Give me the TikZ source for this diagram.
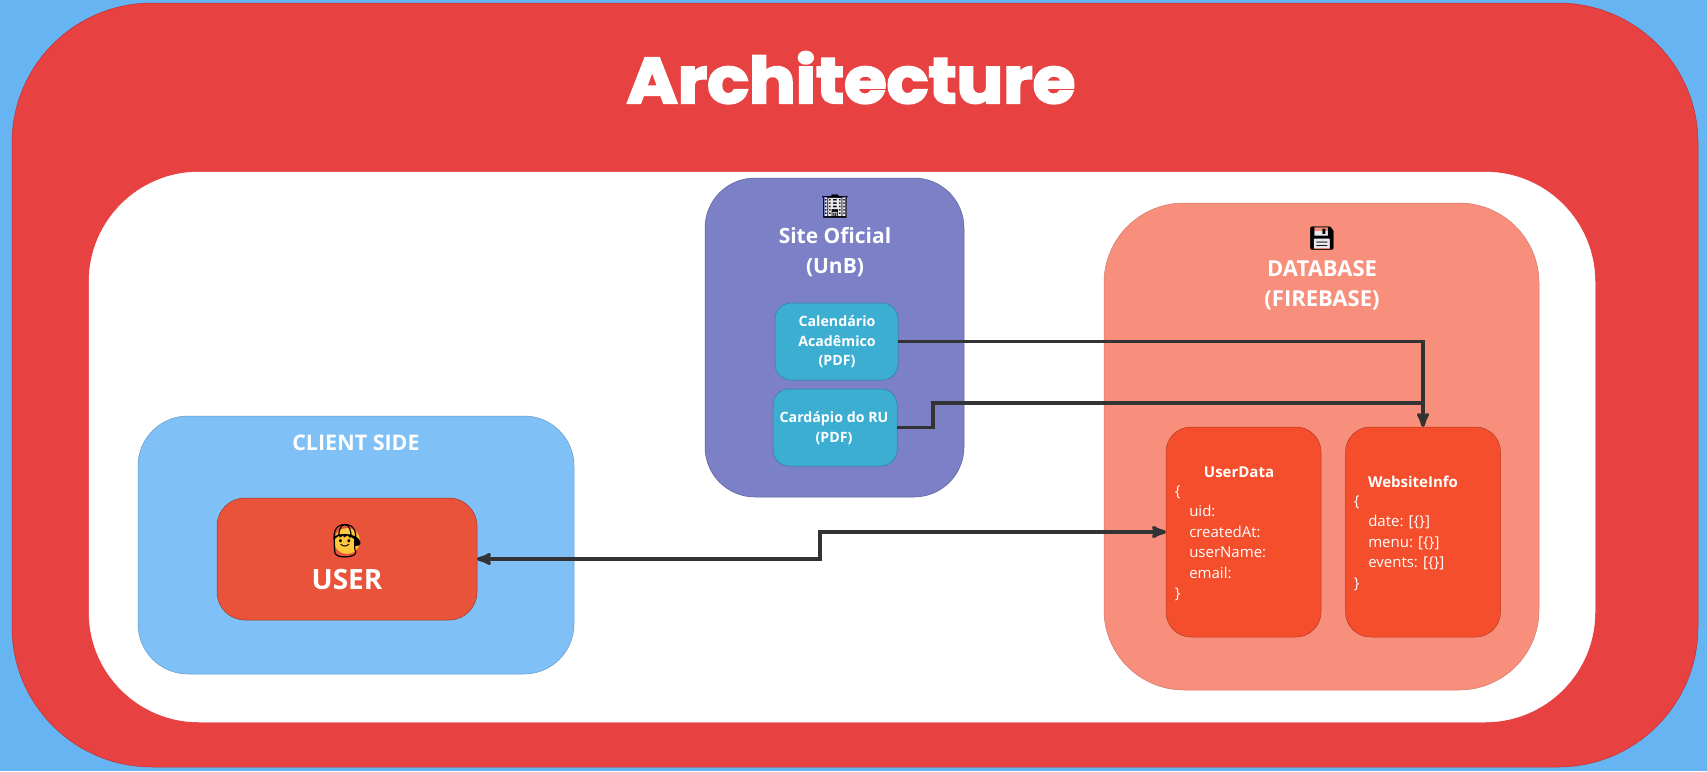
\documentclass[tikz,border=0pt]{standalone}
\usepackage{tikz}
\usepackage{xcolor}
\usepackage{fontspec}
\usetikzlibrary{arrows}

\setmainfont{Open Sans}
\newfontfamily\titlefont[FakeBold=3.5,FakeStretch=1.08]{Poppins}
\newfontfamily\emojifont{Noto Emoji}

\definecolor{skyback}{HTML}{66B4F1}
\definecolor{archred}{HTML}{E84142}
\definecolor{sitepurple}{HTML}{7B80C7}
\definecolor{pdfteal}{HTML}{3BAED1}
\definecolor{dbsalmon}{HTML}{F88F7C}
\definecolor{dborange}{HTML}{F44E2C}
\definecolor{clientblue}{HTML}{7FC0F7}
\definecolor{userred}{HTML}{E8533A}
\definecolor{wire}{HTML}{333333}
\definecolor{boyface}{HTML}{FFC83D}
\definecolor{paperwhite}{HTML}{E8E8EE}

\begin{document}
\begin{tikzpicture}[x=1pt,y=-1pt,->,>=stealth',line width=3.5pt,draw=wire]
  \tikzstyle{panel}=[rectangle,line width=0.5pt,anchor=north west,inner sep=0pt,outer sep=0pt]
  \tikzstyle{heading}=[text=white,font=\fontsize{22}{30}\selectfont\bfseries,align=center]
  \tikzstyle{pdflabel}=[text=white,font=\fontsize{14.2}{19.5}\selectfont\bfseries,align=center]
  \tikzstyle{subhead}=[text=white,font=\fontsize{15}{20}\selectfont\bfseries]
  \tikzstyle{code}=[text=white,font=\fontsize{15}{20.5}\selectfont,align=left,anchor=north west,inner sep=0pt]
  \tikzstyle{emoji}=[font=\fontsize{23}{23}\selectfont\emojifont,text=black]

  \useasboundingbox (0,0) rectangle (1707,771);
  \fill[skyback] (0,0) rectangle (1707,771);

  \node[panel,fill=archred,draw=archred!80!black,rounded corners=140pt,minimum width=1686pt,minimum height=764pt] (arch) at (12,3) {};
  \node[panel,fill=white,draw=white,rounded corners=110pt,minimum width=1506pt,minimum height=550pt] (inner) at (89,172) {};
  \node[text=white,font=\fontsize{64}{64}\selectfont\titlefont\bfseries,anchor=base] (title) at (851,103) {Architecture};

  \node[panel,fill=clientblue,draw=clientblue!80!black,rounded corners=50pt,minimum width=436pt,minimum height=258pt] (client) at (138,416) {};
  \node[heading,font=\fontsize{21.5}{30}\selectfont\bfseries] (clientlabel) at (356,443) {CLIENT SIDE};
  \node[panel,fill=userred,draw=userred!70!black,rounded corners=28pt,minimum width=260pt,minimum height=122pt] (user) at (217,498) {};
  \fill[boyface] (347,541) circle (13);
  \node[emoji,font=\fontsize{33}{33}\selectfont\emojifont] (boy) at (347,541) {^^^^^^01f466};
  \node[text=white,font=\fontsize{28}{28}\selectfont\bfseries] (userlabel) at (347,579) {USER};

  \node[panel,fill=sitepurple,draw=sitepurple!75!black,rounded corners=50pt,minimum width=259pt,minimum height=319pt] (site) at (705,178) {};
  \fill[paperwhite] (825,198) rectangle (845,216);
  \node[emoji] (building) at (835,207) {^^^^^^01f3e2};
  \node[heading,font=\fontsize{21}{30}\selectfont\bfseries] (sitelabel) at (835,252) {Site Oficial\\(UnB)};
  \node[panel,fill=pdfteal,draw=pdfteal!75!black,rounded corners=16pt,minimum width=123pt,minimum height=77pt] (calendario) at (775,303) {};
  \node[pdflabel] (calendariolabel) at (837,342) {Calendário\\Acadêmico\\(PDF)};
  \node[panel,fill=pdfteal,draw=pdfteal!75!black,rounded corners=16pt,minimum width=124pt,minimum height=77pt] (cardapio) at (773,389) {};
  \node[pdflabel] (cardapiolabel) at (834,428) {Cardápio do RU\\(PDF)};

  \node[panel,fill=dbsalmon,draw=dbsalmon!85!black,rounded corners=80pt,minimum width=435pt,minimum height=487pt] (database) at (1104,203) {};
  \fill[paperwhite] (1314,231) rectangle (1331,248);
  \node[emoji] (floppy) at (1322,239) {^^^^^^01f4be};
  \node[heading] (databaselabel) at (1322,285) {DATABASE\\(FIREBASE)};

  \node[panel,fill=dborange,draw=dborange!75!black,rounded corners=25pt,minimum width=155pt,minimum height=210pt] (userdata) at (1166,427) {};
  \node[subhead] (userdatalabel) at (1239,472) {UserData};
  \node[code] (userdatacode) at (1173,484) {\{\\\hspace*{14.5pt}uid:\\\hspace*{14.5pt}createdAt:\\\hspace*{14.5pt}userName:\\\hspace*{14.5pt}email:\\\}};
  \node[panel,fill=dborange,draw=dborange!75!black,rounded corners=25pt,minimum width=155pt,minimum height=210pt] (website) at (1345.5,427) {};
  \node[subhead] (websitelabel) at (1413,482) {WebsiteInfo};
  \node[code] (websitecode) at (1352,494) {\{\\\hspace*{14.5pt}date: [\{\}]\\\hspace*{14.5pt}menu: [\{\}]\\\hspace*{14.5pt}events: [\{\}]\\\}};

  \coordinate (cardapiojog) at (933,403);
  \coordinate (merge) at (website.north |- cardapiojog);
  \coordinate (userjog) at (820,532);

  \draw (calendario.east) -| (website.north);
  \draw[-] (cardapio.east) -| (cardapiojog) -- (merge);
  \draw[<->] (user.east) -| (userjog) -- (userdata.west);
\end{tikzpicture}
\end{document}
